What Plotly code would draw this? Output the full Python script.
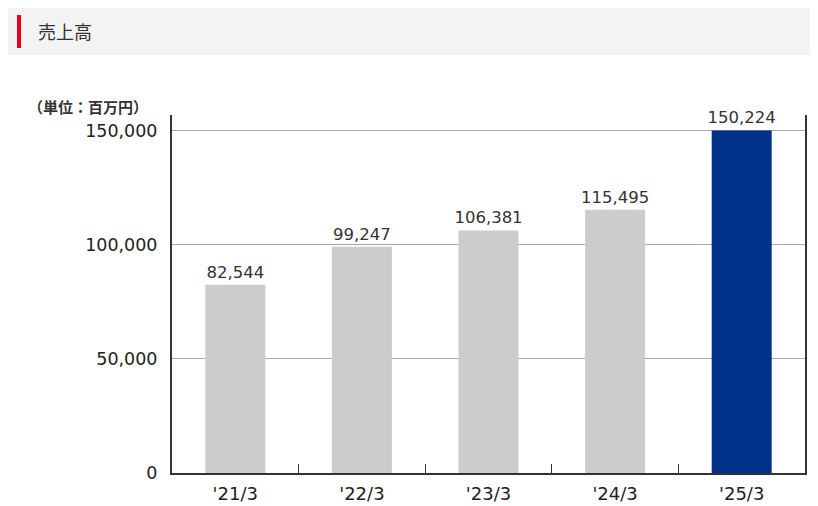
import plotly.graph_objects as go

categories = ["'21/3", "'22/3", "'23/3", "'24/3", "'25/3"]
sales = [82544, 99247, 106381, 115495, 150224]
bar_colors = ["#cccccc", "#cccccc", "#cccccc", "#cccccc", "#00318a"]
y_ticks = [0, 50000, 100000, 150000]

# page body has an 8px margin; figure coordinates = screen coordinates - 8
OFF = 8
W, H = 810, 498
L, R, T, B = 172 - OFF, 13, 115 - OFF, 33
pw, ph = W - L - R, H - T - B

def px(x):
    return (x - OFF - L) / pw

def py(y):
    return (H - B - (y - OFF)) / ph

FONT = "DejaVu Sans, Noto Sans CJK JP, sans-serif"

fig = go.Figure()
fig.add_trace(go.Bar(
    x=categories, y=sales,
    marker=dict(color=bar_colors, line=dict(width=0)),
    text=[f"{v:,}" for v in sales],
    textposition="outside",
    constraintext="none",
    textfont=dict(size=16.5, color="#333333", family=FONT),
    cliponaxis=False,
    hoverinfo="skip",
))

fig.update_layout(
    width=W, height=H,
    margin=dict(l=L, r=R, t=T, b=B, autoexpand=False),
    paper_bgcolor="white", plot_bgcolor="white",
    bargap=0.526,
    showlegend=False,
    font=dict(family=FONT, color="#222222"),
    xaxis=dict(
        automargin=False,
        showline=True, linecolor="#333333", linewidth=2,
        ticks="inside", tickson="boundaries", ticklen=9, tickcolor="#333333", tickwidth=1,
        tickfont=dict(size=18, color="#222222"),
        showgrid=False, ticklabelstandoff=3,
    ),
    yaxis=dict(
        automargin=False,
        range=[0, 157000],
        tickvals=y_ticks, tickformat=",",
        showline=True, mirror=True, linecolor="#333333", linewidth=2,
        showgrid=True, gridcolor="#aaaaaa", gridwidth=1,
        zeroline=False, ticks="",
        tickfont=dict(size=17.5, color="#222222"),
        ticklabelstandoff=9,
    ),
    shapes=[
        dict(type="rect", xref="paper", yref="paper",
             x0=px(8), x1=px(818), y0=py(55), y1=py(8),
             fillcolor="#f3f3f3", line=dict(width=0), layer="below"),
        dict(type="rect", xref="paper", yref="paper",
             x0=px(17), x1=px(21), y0=py(48), y1=py(15),
             fillcolor="#e60012", line=dict(width=0)),
    ],
    annotations=[
        dict(text="売上高", xref="paper", yref="paper", x=px(36), y=py(31),
             xanchor="left", yanchor="middle", showarrow=False,
             font=dict(size=18, color="#333333", family="Noto Sans CJK JP, sans-serif")),
        dict(text="<b>（単位：百万円）</b>", xref="paper", yref="paper", x=px(26), y=py(106),
             xanchor="left", yanchor="middle", showarrow=False,
             font=dict(size=15, color="#333333", family="Noto Sans CJK JP, sans-serif")),
    ],
)

fig.write_html("out.html")
